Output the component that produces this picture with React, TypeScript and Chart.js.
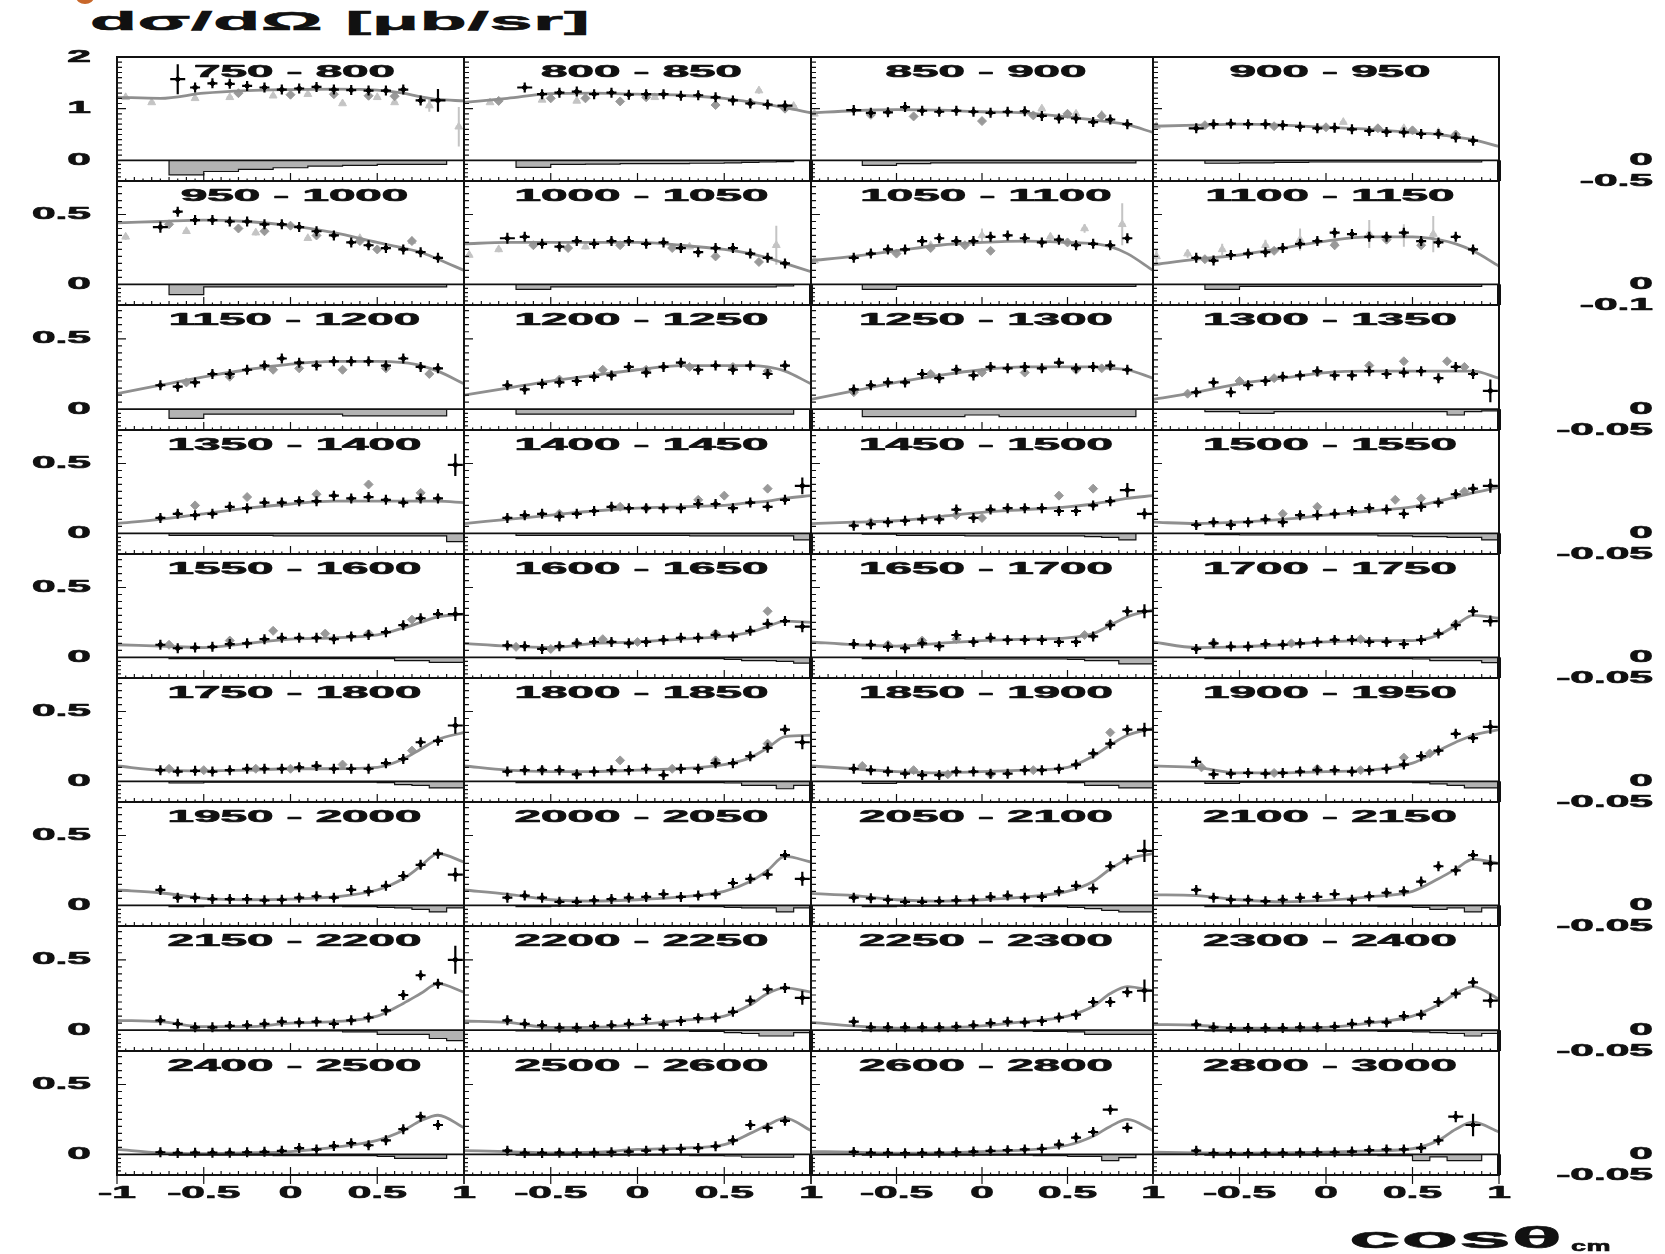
import React, { useEffect, useRef } from 'react';
import { Chart, registerables } from 'chart.js';
Chart.register(...registerables);

// ---------------- data ----------------
const COS = [-0.75,-0.65,-0.55,-0.45,-0.35,-0.25,-0.15,-0.05,0.05,0.15,0.25,0.35,0.45,0.55,0.65,0.75,0.85,0.95];
const FIT_X = [-1,-0.75,-0.5,-0.25,0,0.25,0.5,0.65,0.75,0.85,1];
const RES_EDGES = [-0.7,-0.5,-0.3,-0.1,0.1,0.3,0.5,0.6,0.7,0.8,0.9,1.0];

const ENERGY_BINS = ['750 - 800','800 - 850','850 - 900','900 - 950','950 - 1000','1000 - 1050','1050 - 1100','1100 - 1150','1150 - 1200','1200 - 1250','1250 - 1300','1300 - 1350','1350 - 1400','1400 - 1450','1450 - 1500','1500 - 1550','1550 - 1600','1600 - 1650','1650 - 1700','1700 - 1750','1750 - 1800','1800 - 1850','1850 - 1900','1900 - 1950','1950 - 2000','2000 - 2050','2050 - 2100','2100 - 2150','2150 - 2200','2200 - 2250','2250 - 2300','2300 - 2400','2400 - 2500','2500 - 2600','2600 - 2800','2800 - 3000'];

const ROW_YMAX = [2, 0.74, 0.74, 0.74, 0.74, 0.74, 0.74, 0.74, 0.74];
const ROW_RMIN = [-0.5, -0.1, -0.05, -0.05, -0.05, -0.05, -0.05, -0.05, -0.05];
const LEFT_LABELS_FIRST = [2, 1, 0];
const LEFT_LABELS_OTHER = [0.5, 0];
const X_LABELS = [-1, -0.5, 0, 0.5, 1];
const TITLE = 'dσ/dΩ [μb/sr]';
const X_TITLE = 'cosθ';
const X_TITLE_SUB = 'cm';

const blackY: (number | null)[][] = [
  [null,1.57,1.41,1.49,1.48,1.44,1.41,1.37,1.39,1.42,1.37,1.36,1.35,1.35,1.37,1.16,1.16,null],
  [null,1.41,1.28,1.31,1.33,1.28,1.31,1.27,1.28,1.28,1.25,1.26,1.22,1.16,1.1,1.08,1.06,null],
  [0.97,0.92,0.93,1.03,0.96,0.94,0.96,0.94,0.92,0.94,0.95,0.86,0.81,0.81,0.74,0.79,0.7,null],
  [0.62,0.7,0.71,0.7,0.7,0.68,0.65,0.62,0.63,0.6,0.57,0.55,0.54,0.51,0.51,0.44,0.38,null],
  [0.41,0.52,0.46,0.46,0.45,0.45,0.43,0.43,0.41,0.38,0.35,0.3,0.28,0.26,0.25,0.23,0.19,null],
  [0.33,0.34,0.29,0.27,0.31,0.29,0.31,0.31,0.29,0.3,0.26,0.23,0.26,0.26,0.22,0.19,0.15,null],
  [0.19,0.22,0.25,0.25,0.31,0.33,0.31,0.31,0.34,0.35,0.33,0.3,0.32,0.28,0.29,0.28,0.33,null],
  [0.19,0.17,0.21,0.22,0.23,0.26,0.29,0.31,0.37,0.36,0.34,0.34,0.37,0.31,0.3,0.34,0.25,null],
  [0.17,0.16,0.19,0.25,0.25,0.28,0.31,0.36,0.33,0.31,0.34,0.34,0.34,0.31,0.36,0.3,0.29,null],
  [0.17,0.14,0.18,0.19,0.2,0.23,0.24,0.3,0.26,0.3,0.33,0.28,0.31,0.28,0.31,0.25,0.31,null],
  [0.14,0.17,0.19,0.19,0.25,0.22,0.28,0.24,0.3,0.29,0.3,0.29,0.33,0.29,0.3,0.31,0.28,null],
  [0.12,0.19,0.12,0.17,0.2,0.23,0.24,0.27,0.24,0.24,0.27,0.25,0.26,0.27,0.22,0.3,0.25,0.13],
  [0.11,0.14,0.13,0.14,0.19,0.18,0.22,0.22,0.23,0.23,0.27,0.25,0.26,0.24,0.22,0.25,0.25,0.49],
  [0.11,0.13,0.14,0.12,0.14,0.16,0.19,0.18,0.18,0.18,0.18,0.21,0.21,0.18,0.22,0.19,0.24,0.34],
  [0.055,0.065,0.08,0.09,0.1,0.1,0.17,0.11,0.17,0.18,0.18,0.18,0.16,0.16,0.2,0.23,0.31,0.14],
  [0.06,0.08,0.06,0.08,0.1,0.08,0.13,0.13,0.14,0.16,0.18,0.17,0.14,0.19,0.22,0.28,0.32,0.34],
  [0.09,0.065,0.07,0.075,0.095,0.1,0.13,0.14,0.14,0.14,0.13,0.15,0.16,0.18,0.23,0.28,0.31,0.31],
  [0.085,0.08,0.06,0.08,0.1,0.11,0.11,0.1,0.11,0.125,0.14,0.14,0.16,0.15,0.19,0.24,0.26,0.22],
  [0.095,0.09,0.075,0.065,0.1,0.08,0.16,0.11,0.14,0.125,0.125,0.125,0.11,0.11,0.15,0.23,0.33,0.33],
  [0.06,0.1,0.077,0.077,0.095,0.09,0.1,0.11,0.125,0.125,0.11,0.11,0.095,0.125,0.17,0.23,0.33,0.26],
  [0.08,0.07,0.075,0.07,0.08,0.09,0.09,0.09,0.1,0.11,0.09,0.09,0.09,0.13,0.16,0.28,0.29,0.4],
  [0.07,0.08,0.08,0.08,0.05,0.07,0.08,0.08,0.09,0.045,0.09,0.09,0.13,0.13,0.18,0.24,0.37,0.28],
  [0.09,0.08,0.07,0.055,0.045,0.045,0.07,0.07,0.055,0.055,0.08,0.08,0.09,0.12,0.2,0.27,0.37,0.37],
  [0.14,0.05,0.055,0.06,0.055,0.06,0.07,0.08,0.08,0.07,0.08,0.09,0.12,0.18,0.22,0.34,0.31,0.39],
  [0.11,0.055,0.055,0.045,0.045,0.045,0.036,0.04,0.055,0.065,0.055,0.11,0.1,0.14,0.21,0.29,0.37,0.22],
  [0.055,0.07,0.055,0.025,0.025,0.036,0.045,0.055,0.06,0.08,0.06,0.07,0.08,0.16,0.19,0.22,0.36,0.19],
  [0.055,0.05,0.04,0.025,0.025,0.03,0.036,0.04,0.06,0.07,0.055,0.06,0.1,0.14,0.12,0.28,0.33,0.39],
  [0.11,0.055,0.04,0.04,0.03,0.04,0.055,0.06,0.08,0.04,0.065,0.09,0.1,0.17,0.28,0.25,0.36,0.3],
  [0.07,0.045,0.02,0.02,0.03,0.035,0.045,0.06,0.055,0.06,0.045,0.07,0.09,0.14,0.25,0.39,0.33,0.5],
  [0.07,0.045,0.035,0.017,0.017,0.03,0.035,0.045,0.08,0.04,0.065,0.085,0.09,0.13,0.21,0.29,0.3,0.23],
  [0.06,0.02,0.02,0.02,0.02,0.02,0.025,0.035,0.05,0.06,0.055,0.065,0.09,0.11,0.2,0.2,0.27,0.28],
  [0.04,0.02,0.015,0.015,0.015,0.015,0.02,0.02,0.025,0.045,0.06,0.055,0.1,0.11,0.2,0.26,0.34,0.21],
  [0.015,0.01,0.012,0.012,0.012,0.015,0.018,0.025,0.045,0.035,0.06,0.08,0.065,0.1,0.18,0.27,0.21,null],
  [0.026,0.01,0.01,0.012,0.01,0.012,0.015,0.02,0.026,0.033,0.04,0.045,0.058,0.1,0.21,0.19,0.24,null],
  [0.017,0.01,0.01,0.008,0.01,0.012,0.015,0.02,0.025,0.03,0.035,0.04,0.07,0.12,0.16,0.32,0.19,null],
  [0.026,0.008,0.008,0.008,0.01,0.01,0.012,0.015,0.015,0.02,0.03,0.035,0.035,0.045,0.1,0.27,0.21,null],
];

// [pointIndex, error, ...] for black points with visible large error bars
const blackBigErr: number[][] = [
  [1,0.29,16,0.22],[1,0.07,16,0.1],[0,0.1],[0,0.05],
  [0,0.04],[0,0.04],[],[],
  [],[],[],[17,0.08],
  [17,0.08],[17,0.06],[16,0.05,17,0.04],[17,0.05],
  [17,0.05],[17,0.04],[17,0.05],[17,0.04],
  [17,0.06],[17,0.05],[17,0.05],[17,0.05],
  [17,0.05],[17,0.05],[17,0.08],[17,0.06],
  [17,0.1],[17,0.05],[17,0.08],[17,0.05],
  [],[],[15,0.03],[15,0.04,16,0.08],
];

// other measurement (grey markers): [x, y, x, y, ...]
const greyPts: number[][] = [
  [-0.3,1.3, 0.0,1.27, 0.25,1.28, 0.45,1.25, 0.6,1.24],
  [-0.8,1.15, -0.5,1.2, -0.3,1.2, -0.1,1.14, 0.05,1.22, 0.45,1.07, 0.65,1.12, 0.85,1.0],
  [-0.65,0.88, -0.4,0.85, 0.0,0.76, 0.3,0.87, 0.5,0.9, 0.7,0.86],
  [-0.7,0.68, -0.3,0.66, 0.0,0.64, 0.3,0.62, 0.5,0.58, 0.75,0.5],
  [-0.7,0.43, -0.3,0.4, -0.15,0.38, 0.0,0.42, 0.15,0.35, 0.4,0.31, 0.5,0.25, 0.7,0.31],
  [-0.6,0.28, -0.4,0.26, -0.1,0.28, 0.2,0.26, 0.45,0.2, 0.7,0.16],
  [-0.5,0.22, -0.3,0.26, -0.1,0.28, 0.05,0.24, 0.5,0.3],
  [-0.7,0.18, -0.3,0.24, 0.05,0.28, 0.35,0.32, 0.55,0.28],
  [-0.6,0.19, -0.35,0.23, -0.1,0.28, 0.05,0.29, 0.3,0.28, 0.55,0.29, 0.8,0.25],
  [-0.45,0.21, -0.2,0.28, 0.05,0.28, 0.3,0.3, 0.55,0.3, 0.75,0.27],
  [-0.75,0.12, -0.3,0.25, 0.0,0.26, 0.25,0.26, 0.55,0.28, 0.7,0.29],
  [-0.8,0.11, -0.5,0.2, -0.3,0.22, -0.05,0.26, 0.25,0.31, 0.45,0.34, 0.7,0.34, 0.8,0.3],
  [-0.55,0.2, -0.25,0.26, 0.15,0.28, 0.45,0.35, 0.75,0.29],
  [-0.45,0.14, -0.1,0.19, 0.05,0.18, 0.35,0.24, 0.5,0.27, 0.75,0.32],
  [-0.65,0.08, -0.15,0.13, 0.0,0.11, 0.45,0.27, 0.65,0.32],
  [-0.55,0.07, -0.25,0.14, -0.05,0.19, 0.4,0.24, 0.55,0.25, 0.8,0.3],
  [-0.7,0.09, -0.35,0.12, -0.1,0.19, 0.2,0.17, 0.45,0.17, 0.7,0.27],
  [-0.7,0.075, -0.5,0.06, -0.35,0.1, -0.2,0.13, 0.0,0.11, 0.45,0.17, 0.75,0.33],
  [-0.55,0.09, -0.35,0.12, -0.15,0.13, 0.6,0.16, 0.75,0.24],
  [-0.65,0.1, -0.2,0.1, 0.2,0.13, 0.75,0.24],
  [-0.7,0.09, -0.5,0.08, -0.2,0.09, 0.0,0.09, 0.3,0.12, 0.7,0.22],
  [-0.55,0.08, -0.1,0.15, 0.2,0.09, 0.45,0.15, 0.75,0.27],
  [-0.7,0.11, -0.4,0.08, -0.2,0.05, 0.05,0.05, 0.3,0.08, 0.75,0.35],
  [-0.72,0.1, -0.3,0.06, -0.05,0.09, 0.2,0.08, 0.45,0.17, 0.6,0.2],
  [],[],[],[],[],[],[],[],[],[],[],[],
];

// third measurement (light grey with error bars): [x, y, err, ...]
const lightPts: number[][] = [
  [-0.95,1.22,0.03, -0.8,1.12,0.03, -0.55,1.2,0.03, -0.35,1.22,0.03, -0.1,1.25,0.03, 0.1,1.28,0.03, 0.3,1.1,0.03, 0.5,1.22,0.03, 0.6,1.12,0.03, 0.8,1.06,0.12, 0.97,0.65,0.38],
  [-0.85,1.12,0.03, -0.55,1.17,0.03, -0.35,1.15,0.03, 0.1,1.22,0.03, 0.7,1.35,0.06, 0.9,1.05,0.04],
  [-0.98,0.9,0.03, 0.35,1.0,0.04, 0.55,0.9,0.03, 0.7,0.88,0.03],
  [-0.98,0.66,0.02, 0.1,0.74,0.03, 0.45,0.62,0.03, 0.65,0.55,0.02],
  [-0.95,0.34,0.02, -0.6,0.38,0.02, -0.2,0.37,0.02, 0.1,0.33,0.02, 0.4,0.33,0.02, 0.7,0.31,0.02],
  [-0.97,0.21,0.02, -0.8,0.25,0.02, -0.3,0.27,0.02, 0.3,0.27,0.02, 0.8,0.28,0.14],
  [-0.98,0.17,0.02, -0.3,0.28,0.02, 0.0,0.35,0.05, 0.4,0.34,0.03, 0.6,0.4,0.03, 0.82,0.43,0.15],
  [-0.98,0.2,0.05, -0.8,0.22,0.03, -0.6,0.25,0.04, -0.35,0.28,0.04, -0.15,0.32,0.08, 0.05,0.3,0.05, 0.25,0.36,0.1, 0.45,0.35,0.08, 0.62,0.36,0.13],
  [],[],[],[],[],[],[],[],[],[],[],[],[],[],[],[],[],[],[],[],[],[],[],[],[],[],[],[],
];

// fit curve values at FIT_X
const fitY: number[][] = [
  [1.22,1.2,1.3,1.35,1.37,1.38,1.36,1.3,1.23,1.18,1.15],
  [1.12,1.2,1.29,1.3,1.28,1.26,1.2,1.13,1.08,1.02,0.92],
  [0.92,0.96,0.98,0.97,0.94,0.92,0.84,0.78,0.74,0.69,0.54],
  [0.66,0.68,0.7,0.68,0.64,0.6,0.54,0.5,0.45,0.4,0.27],
  [0.44,0.45,0.46,0.45,0.42,0.37,0.3,0.26,0.23,0.18,0.1],
  [0.29,0.3,0.3,0.3,0.3,0.28,0.25,0.22,0.19,0.15,0.09],
  [0.17,0.2,0.24,0.28,0.3,0.31,0.3,0.29,0.27,0.22,0.1],
  [0.14,0.18,0.21,0.26,0.31,0.34,0.34,0.32,0.29,0.24,0.13],
  [0.11,0.17,0.23,0.28,0.32,0.34,0.34,0.33,0.31,0.27,0.18],
  [0.1,0.15,0.2,0.24,0.28,0.31,0.31,0.31,0.3,0.27,0.18],
  [0.07,0.13,0.19,0.24,0.28,0.3,0.3,0.3,0.29,0.28,0.22],
  [0.07,0.12,0.18,0.22,0.26,0.27,0.27,0.27,0.27,0.27,0.22],
  [0.07,0.1,0.14,0.18,0.21,0.23,0.23,0.23,0.23,0.23,0.22],
  [0.07,0.1,0.13,0.16,0.18,0.19,0.2,0.22,0.23,0.25,0.27],
  [0.07,0.08,0.09,0.12,0.15,0.17,0.19,0.21,0.23,0.25,0.27],
  [0.08,0.07,0.08,0.1,0.13,0.16,0.19,0.23,0.26,0.29,0.33],
  [0.09,0.08,0.07,0.1,0.13,0.14,0.16,0.21,0.25,0.29,0.31],
  [0.1,0.08,0.07,0.1,0.11,0.13,0.15,0.18,0.22,0.26,0.25],
  [0.11,0.09,0.08,0.1,0.12,0.13,0.14,0.17,0.23,0.29,0.34],
  [0.11,0.07,0.075,0.09,0.11,0.12,0.12,0.16,0.23,0.3,0.28],
  [0.11,0.08,0.075,0.08,0.09,0.09,0.1,0.16,0.23,0.3,0.35],
  [0.11,0.08,0.07,0.07,0.08,0.09,0.12,0.17,0.24,0.32,0.33],
  [0.11,0.09,0.07,0.06,0.07,0.08,0.1,0.18,0.26,0.33,0.38],
  [0.11,0.1,0.06,0.06,0.07,0.08,0.13,0.22,0.28,0.33,0.37],
  [0.11,0.09,0.05,0.04,0.045,0.06,0.11,0.19,0.28,0.37,0.31],
  [0.11,0.08,0.04,0.03,0.04,0.06,0.1,0.17,0.25,0.35,0.31],
  [0.085,0.07,0.04,0.03,0.04,0.06,0.1,0.17,0.26,0.33,0.37],
  [0.075,0.07,0.04,0.025,0.035,0.06,0.1,0.19,0.26,0.33,0.3],
  [0.07,0.06,0.025,0.025,0.05,0.06,0.1,0.19,0.26,0.33,0.27],
  [0.065,0.055,0.02,0.02,0.04,0.07,0.1,0.18,0.26,0.3,0.27],
  [0.055,0.03,0.015,0.015,0.03,0.06,0.1,0.17,0.26,0.31,0.28],
  [0.04,0.035,0.015,0.015,0.02,0.05,0.1,0.18,0.26,0.31,0.22],
  [0.035,0.01,0.005,0.01,0.02,0.05,0.1,0.17,0.24,0.28,0.19],
  [0.026,0.02,0.01,0.015,0.035,0.045,0.07,0.15,0.21,0.26,0.17],
  [0.02,0.015,0.008,0.01,0.02,0.03,0.065,0.13,0.2,0.25,0.17],
  [0.015,0.01,0.008,0.01,0.015,0.025,0.04,0.1,0.18,0.23,0.16],
];

// residual histogram, one value per RES_EDGES bin
const resY: (number | null)[][] = [
  [-0.35,-0.27,-0.22,-0.18,-0.14,-0.12,-0.1,-0.1,-0.1,-0.1,null],
  [-0.17,-0.1,-0.09,-0.08,-0.08,-0.07,-0.06,-0.05,-0.04,-0.03,null],
  [-0.12,-0.08,-0.06,-0.06,-0.06,-0.06,-0.06,-0.06,-0.06,-0.06,null],
  [-0.07,-0.06,-0.05,-0.04,-0.04,-0.04,-0.04,-0.04,-0.04,-0.04,null],
  [-0.05,-0.012,-0.012,-0.012,-0.012,-0.012,-0.012,-0.012,-0.012,-0.012,null],
  [-0.024,-0.012,-0.012,-0.012,-0.012,-0.012,-0.012,-0.012,-0.012,-0.008,null],
  [-0.024,-0.01,-0.01,-0.01,-0.01,-0.01,-0.01,-0.01,-0.01,-0.01,null],
  [-0.024,-0.01,-0.01,-0.01,-0.01,-0.01,-0.01,-0.01,-0.01,-0.01,null],
  [-0.022,-0.012,-0.012,-0.012,-0.012,-0.016,-0.016,-0.016,-0.016,-0.016,null],
  [-0.012,-0.012,-0.012,-0.012,-0.012,-0.012,-0.012,-0.012,-0.012,-0.012,null],
  [-0.018,-0.018,-0.018,-0.014,-0.018,-0.018,-0.018,-0.018,-0.018,-0.018,null],
  [-0.006,-0.01,-0.006,-0.006,-0.006,-0.006,-0.006,-0.006,-0.014,-0.006,-0.004],
  [-0.005,-0.005,-0.005,-0.006,-0.006,-0.006,-0.006,-0.006,-0.006,-0.006,-0.02],
  [-0.005,-0.005,-0.005,-0.005,-0.005,-0.006,-0.006,-0.006,-0.006,-0.006,-0.016],
  [-0.002,-0.005,-0.005,-0.006,-0.006,-0.006,-0.006,-0.008,-0.01,-0.016,null],
  [-0.003,-0.004,-0.004,-0.004,-0.004,-0.006,-0.008,-0.008,-0.01,-0.01,-0.016],
  [-0.003,-0.003,-0.003,-0.003,-0.003,-0.003,-0.003,-0.008,-0.008,-0.012,-0.012],
  [-0.003,-0.003,-0.003,-0.003,-0.003,-0.003,-0.005,-0.008,-0.008,-0.01,-0.014],
  [-0.003,-0.003,-0.003,-0.004,-0.004,-0.004,-0.005,-0.008,-0.008,-0.016,-0.016],
  [-0.003,-0.003,-0.003,-0.003,-0.003,-0.003,-0.004,-0.008,-0.008,-0.008,-0.013],
  [-0.004,-0.002,-0.002,-0.002,-0.002,-0.002,-0.003,-0.008,-0.01,-0.016,-0.016],
  [-0.003,-0.003,-0.003,-0.003,-0.003,-0.003,-0.004,-0.01,-0.01,-0.018,-0.01],
  [-0.005,-0.002,-0.002,-0.002,-0.002,-0.002,-0.003,-0.01,-0.01,-0.016,-0.016],
  [-0.005,-0.002,-0.002,-0.002,-0.002,-0.002,-0.003,-0.006,-0.01,-0.016,-0.016],
  [-0.003,-0.002,-0.002,-0.002,-0.002,-0.003,-0.005,-0.006,-0.01,-0.016,-0.006],
  [-0.003,-0.002,-0.002,-0.002,-0.002,-0.003,-0.005,-0.006,-0.006,-0.016,-0.006],
  [-0.003,-0.002,-0.002,-0.002,-0.002,-0.003,-0.005,-0.008,-0.012,-0.016,-0.016],
  [-0.003,-0.002,-0.002,-0.002,-0.002,-0.003,-0.005,-0.01,-0.006,-0.016,-0.006],
  [-0.002,-0.002,-0.002,-0.002,-0.002,-0.004,-0.01,-0.01,-0.01,-0.02,-0.025],
  [-0.002,-0.002,-0.002,-0.002,-0.002,-0.003,-0.006,-0.008,-0.014,-0.014,-0.006],
  [-0.002,-0.002,-0.002,-0.002,-0.002,-0.003,-0.004,-0.01,-0.01,-0.01,-0.01],
  [-0.002,-0.002,-0.002,-0.002,-0.002,-0.003,-0.004,-0.006,-0.008,-0.014,-0.008],
  [-0.002,-0.002,-0.002,-0.003,-0.003,-0.003,-0.005,-0.01,-0.01,-0.01,null],
  [-0.002,-0.002,-0.002,-0.002,-0.002,-0.003,-0.004,-0.007,-0.007,-0.007,null],
  [-0.002,-0.002,-0.002,-0.002,-0.002,-0.003,-0.005,-0.005,-0.015,-0.008,null],
  [-0.002,-0.002,-0.002,-0.002,-0.002,-0.003,-0.015,-0.006,-0.015,-0.015,null],
];

// ---------------- layout ----------------
const PAGE_W = 1665, PAGE_H = 1254;
const COL_EDGES = [117, 464, 811, 1153, 1499];
const ROW_EDGES = [57, 181, 305, 430, 554, 678, 802, 926, 1051, 1175];
const FONT = '"Liberation Sans", Arial, sans-serif';

function wide(ctx: CanvasRenderingContext2D, text: string, x: number, y: number, size: number, sx: number, align: string) {
  ctx.save();
  ctx.font = `bold ${size}px ${FONT}`;
  ctx.textAlign = 'left';
  ctx.textBaseline = 'middle';
  const w = ctx.measureText(text).width * sx;
  const left = align === 'center' ? x - w / 2 : align === 'right' ? x - w : x;
  ctx.translate(left, y);
  ctx.scale(sx, 1);
  ctx.fillStyle = '#111';
  ctx.strokeStyle = '#111';
  ctx.lineWidth = 0.7;
  ctx.lineJoin = 'round';
  ctx.fillText(text, 0, 0);
  ctx.strokeText(text, 0, 0);
  ctx.restore();
}

function makeDecor(idx: number) {
  const r = Math.floor(idx / 4), c = idx % 4;
  const T = ROW_YMAX[r], R = ROW_RMIN[r];
  const big = new Map<number, number>();
  const be = blackBigErr[idx];
  for (let i = 0; i < be.length; i += 2) big.set(be[i], be[i + 1]);
  return {
    id: 'panelDecor',
    beforeDatasetsDraw(chart: any) {
      const ctx = chart.ctx, a = chart.chartArea, xs = chart.scales.x, ys = chart.scales.y;
      const lp = lightPts[idx];
      ctx.save();
      ctx.beginPath(); ctx.rect(a.left, a.top, a.right - a.left, a.bottom - a.top); ctx.clip();
      ctx.strokeStyle = '#c4c4c4'; ctx.lineWidth = 2;
      ctx.beginPath();
      for (let i = 0; i < lp.length; i += 3) {
        const px = xs.getPixelForValue(lp[i]);
        const pt = ys.getPixelForValue(lp[i + 1] + lp[i + 2]);
        const pb = ys.getPixelForValue(lp[i + 1] - lp[i + 2]);
        ctx.moveTo(px, pt); ctx.lineTo(px, pb);
        const py = ys.getPixelForValue(lp[i + 1]);
        ctx.moveTo(px - 3, py); ctx.lineTo(px + 3, py);
      }
      ctx.stroke();
      ctx.restore();
    },
    afterDatasetsDraw(chart: any) {
      const ctx = chart.ctx, a = chart.chartArea, xs = chart.scales.x, ys = chart.scales.y;
      ctx.save();
      ctx.beginPath(); ctx.rect(a.left, a.top, a.right - a.left, a.bottom - a.top); ctx.clip();
      ctx.strokeStyle = '#000'; ctx.lineWidth = 2.2;
      ctx.beginPath();
      blackY[idx].forEach((v, i) => {
        if (v == null) return;
        const px = xs.getPixelForValue(COS[i]);
        const py = ys.getPixelForValue(v);
        const e = big.get(i);
        const ev = e ? Math.abs(ys.getPixelForValue(v + e) - py) : 0;
        const vh = Math.max(5, ev);
        const hh = e ? 7.5 : 5;
        ctx.moveTo(px, py - vh); ctx.lineTo(px, py + vh);
        ctx.moveTo(px - hh, py); ctx.lineTo(px + hh, py);
      });
      ctx.stroke();
      ctx.restore();
    },
    afterDraw(chart: any) {
      const ctx = chart.ctx, a = chart.chartArea, xs = chart.scales.x, ys = chart.scales.y, yr = chart.scales.yr;
      const zy = ys.getPixelForValue(0);
      ctx.save();
      ctx.strokeStyle = '#111';
      ctx.lineWidth = 1.2;
      ctx.beginPath();
      const step = r === 0 ? 0.1 : 0.05;
      const majorStep = r === 0 ? 1 : 0.5;
      for (let k = 1; k * step < T - 1e-9; k++) {
        const v = k * step;
        const py = ys.getPixelForValue(v);
        const q = v / majorStep;
        const major = Math.abs(q - Math.round(q)) < 1e-6;
        ctx.moveTo(a.left, py); ctx.lineTo(a.left + (major ? 9 : 5), py);
      }
      for (let k = 1; k < 5; k++) {
        const py = yr.getPixelForValue((R * k) / 5);
        ctx.moveTo(a.left, py); ctx.lineTo(a.left + 4, py);
      }
      for (let k = 1; k < 40; k++) {
        const px = xs.getPixelForValue(-1 + k * 0.05);
        const len = k % 10 === 0 ? 8 : k % 2 === 0 ? 4 : 2.5;
        ctx.moveTo(px, a.bottom); ctx.lineTo(px, a.bottom - len);
      }
      if (r === 8) {
        for (let k = 0; k <= 40; k += 10) {
          const px = xs.getPixelForValue(-1 + k * 0.05);
          ctx.moveTo(px, a.bottom); ctx.lineTo(px, a.bottom + 9);
        }
      }
      ctx.stroke();
      ctx.lineWidth = 1.6;
      ctx.beginPath(); ctx.moveTo(a.left, zy); ctx.lineTo(a.right, zy); ctx.stroke();
      ctx.lineWidth = 2;
      ctx.strokeRect(a.left, a.top, a.right - a.left, a.bottom - a.top);
      if (c === 1 || c === 3) {
        ctx.fillStyle = '#111';
        ctx.fillRect(a.right - 2, zy, 4, a.bottom - zy);
      }
      ctx.restore();

      // panel label
      wide(ctx, ENERGY_BINS[idx], (a.left + a.right) / 2 + 4, a.top + 15, 17, 2.8, 'center');
      // left tick labels
      if (c === 0) {
        (r === 0 ? LEFT_LABELS_FIRST : LEFT_LABELS_OTHER).forEach((v) => {
          wide(ctx, String(v), a.left - 26, ys.getPixelForValue(v), 17, 2.5, 'right');
        });
      }
      // right residual labels
      if (c === 3) {
        wide(ctx, '0', a.right + 154, zy, 17, 2.5, 'right');
        wide(ctx, String(R), a.right + 154, yr.getPixelForValue(R), 17, 2.5, 'right');
      }
      // bottom labels
      if (r === 8) {
        X_LABELS.forEach((v) => {
          if (c > 0 && v === -1) return;
          wide(ctx, String(v), xs.getPixelForValue(v), a.bottom + 18, 17, 2.5, 'center');
        });
      }
    },
  };
}

function Panel({ idx }: { idx: number }) {
  const ref = useRef<HTMLCanvasElement>(null);
  const r = Math.floor(idx / 4), c = idx % 4;
  const x0 = COL_EDGES[c], x1 = COL_EDGES[c + 1], y0 = ROW_EDGES[r], y1 = ROW_EDGES[r + 1];
  const ML = c === 0 ? x0 : 14, MR = c === 3 ? PAGE_W - x1 : 14;
  const MT = r === 0 ? y0 : 14, MB = r === 8 ? PAGE_H - y1 : 14;
  const cw = x1 - x0 + ML + MR, ch = y1 - y0 + MT + MB;
  const ox = x0 - ML, oy = y0 - MT;

  useEffect(() => {
    const T = ROW_YMAX[r], R = ROW_RMIN[r];
    const black = COS.map((x, i) => (blackY[idx][i] == null ? null : { x, y: blackY[idx][i] as number })).filter(Boolean);
    const grey: any[] = [];
    for (let i = 0; i < greyPts[idx].length; i += 2) grey.push({ x: greyPts[idx][i], y: greyPts[idx][i + 1] });
    const light: any[] = [];
    for (let i = 0; i < lightPts[idx].length; i += 3) light.push({ x: lightPts[idx][i], y: lightPts[idx][i + 1] });
    const fit = FIT_X.map((x, i) => ({ x, y: fitY[idx][i] }));
    const hist: any[] = [];
    const rv = resY[idx];
    let last = 0, lastEdge = RES_EDGES[0];
    hist.push({ x: RES_EDGES[0], y: 0 });
    for (let i = 0; i < rv.length; i++) {
      if (rv[i] == null) break;
      hist.push({ x: RES_EDGES[i], y: rv[i] });
      last = rv[i] as number;
      lastEdge = RES_EDGES[i + 1];
    }
    hist.push({ x: lastEdge, y: last });
    hist.push({ x: lastEdge, y: 0 });

    const chart = new Chart(ref.current as HTMLCanvasElement, {
      type: 'line',
      data: {
        datasets: [
          { data: black as any, yAxisID: 'y', showLine: false, pointStyle: 'rectRot', pointRadius: 3, pointBackgroundColor: '#000', pointBorderColor: '#000', order: 0 } as any,
          { data: fit, yAxisID: 'y', borderColor: '#8f8f8f', borderWidth: 2.8, pointRadius: 0, cubicInterpolationMode: 'monotone', fill: false, order: 1 } as any,
          { data: grey, yAxisID: 'y', showLine: false, pointStyle: 'rectRot', pointRadius: 4.5, pointBackgroundColor: '#999', pointBorderColor: '#999', order: 3 } as any,
          { data: light, yAxisID: 'y', showLine: false, pointStyle: 'triangle', pointRadius: 4.5, pointBackgroundColor: '#c4c4c4', pointBorderColor: '#c4c4c4', order: 4 } as any,
          { data: hist, yAxisID: 'yr', stepped: true, fill: 'origin', backgroundColor: '#b3b3b3', borderColor: '#111', borderWidth: 1.2, pointRadius: 0, order: 5 } as any,
        ],
      },
      options: {
        animation: false,
        responsive: false,
        devicePixelRatio: 1,
        events: [],
        layout: { padding: { left: ML, right: MR, top: MT, bottom: MB } },
        plugins: { legend: { display: false }, tooltip: { enabled: false } },
        scales: {
          x: { type: 'linear', min: -1, max: 1, display: false },
          y: { type: 'linear', min: -0.2 * T, max: T, display: false },
          yr: { type: 'linear', min: R, max: -5 * R, display: false },
        },
      } as any,
      plugins: [makeDecor(idx)],
    });
    return () => chart.destroy();
  }, []);

  return (
    <canvas
      ref={ref}
      width={cw}
      height={ch}
      style={{ position: 'absolute', left: ox, top: oy, width: cw, height: ch }}
    />
  );
}

const wideText = (size: number, sx: number, ls: number): React.CSSProperties => ({
  position: 'absolute',
  fontFamily: FONT,
  fontWeight: 'bold',
  fontSize: size,
  lineHeight: `${size}px`,
  letterSpacing: ls,
  whiteSpace: 'nowrap',
  transform: `scaleX(${sx})`,
  transformOrigin: '0 0',
  color: '#111',
  WebkitTextStroke: '0.6px #111',
});

export default function App() {
  useEffect(() => {
    document.body.style.margin = '0';
    document.documentElement.style.overflow = 'hidden';
  }, []);
  return (
    <div style={{ position: 'absolute', left: 0, top: 0, width: PAGE_W, height: PAGE_H, background: '#fff', overflow: 'hidden' }}>
      <div style={{ position: 'absolute', left: 76, top: -10, width: 18, height: 14, borderRadius: '50%', background: '#c8672a' }} />
      <div style={{ ...wideText(26, 2.95, 0.3), left: 90, top: 8 }}>{TITLE}</div>
      {ENERGY_BINS.map((_, i) => (
        <Panel key={i} idx={i} />
      ))}
      <div style={{ ...wideText(29, 3.2, 0.3), left: 1349, top: 1224 }}>{X_TITLE}</div>
      <div style={{ ...wideText(15, 1.8, 0.3), left: 1571, top: 1238 }}>{X_TITLE_SUB}</div>
    </div>
  );
}
